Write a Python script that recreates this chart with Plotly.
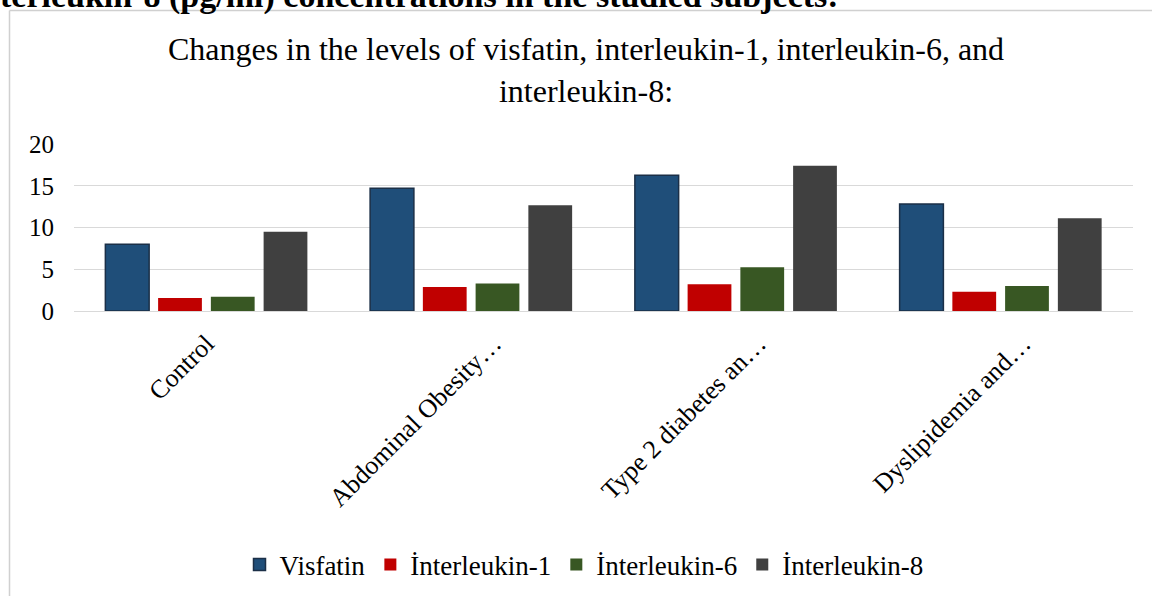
import plotly.graph_objects as go

categories = ["Control", "Abdominal Obesity…", "Type 2 diabetes an…", "Dyslipidemia and…"]
series_names = ["Visfatin", "İnterleukin-1", "İnterleukin-6", "İnterleukin-8"]
visfatin = [8.0, 14.7, 16.25, 12.8]
il1 = [1.55, 2.87, 3.2, 2.3]
il6 = [1.7, 3.3, 5.25, 3.0]
il8 = [9.5, 12.65, 17.4, 11.1]
y_ticks = [0, 5, 10, 15, 20]

values = [visfatin, il1, il6, il8]
colors = ["#1f4e79", "#c00000", "#385723", "#404040"]
outlines = ["#1b2f47", "#c00000", "#385723", "#404040"]
outline_w = [1.5, 0, 0, 0]

# label placement nudge (in category units) to mimic the source's truncated-label offset
label_nudge = [0.0, 0.085, 0.085, 0.085]

W, H = 1152, 596
L, R, T, B = 74, 19, 144, 285
pw = W - L - R
ph = H - T - B

def px_x(p):
    return (p - L) / pw

def px_y(p):
    return (H - B - p) / ph

positions = list(range(len(categories)))

fig = go.Figure()
for name, vals, c, oc, ow in zip(series_names, values, colors, outlines, outline_w):
    fig.add_trace(go.Bar(
        name=name, x=positions, y=vals,
        marker=dict(color=c, line=dict(color=oc, width=ow)),
    ))

font_family = "Liberation Serif, Times New Roman, serif"

fig.update_layout(
    width=W, height=H,
    margin=dict(l=L, r=R, t=T, b=B, autoexpand=False),
    paper_bgcolor="white", plot_bgcolor="white",
    barmode="group", bargap=0.203, bargroupgap=0.17,
    font=dict(family=font_family, color="#000000"),
    title=dict(
        text="Changes in the levels of visfatin, interleukin-1, interleukin-6, and<br>interleukin-8:",
        font=dict(family=font_family, size=32, color="#000000"),
        x=px_x(586), xref="paper", xanchor="center",
        y=1 - 60 / H, yref="container", yanchor="top",
    ),
    showlegend=True,
    legend=dict(
        orientation="h",
        x=px_x(584), xanchor="center",
        y=px_y(565), yanchor="middle",
        font=dict(family=font_family, size=27, color="#000000"),
        itemwidth=30,
        bgcolor="rgba(0,0,0,0)",
    ),
    xaxis=dict(
        range=[-0.5, len(categories) - 0.5],
        tickmode="array",
        tickvals=[p + n for p, n in zip(positions, label_nudge)],
        ticktext=categories,
        tickangle=-45,
        tickfont=dict(family=font_family, size=26, color="#000000"),
        showgrid=False, showline=True, linecolor="#d9d9d9", linewidth=1,
        zeroline=False,
        ticks="", automargin=False, ticklabelstandoff=6,
    ),
    yaxis=dict(
        range=[0, 20], tickvals=y_ticks,
        tickfont=dict(family=font_family, size=25, color="#000000"),
        showgrid=True, gridcolor="#d9d9d9", gridwidth=1,
        zeroline=False, showline=False, ticks="",
        ticklabelstandoff=19, automargin=False,
    ),
    annotations=[dict(
        text="<b>terleukin-8 (pg/ml) concentrations in the studied subjects:</b>",
        xref="paper", yref="paper",
        x=px_x(-2), y=px_y(-4), xanchor="left", yanchor="middle",
        showarrow=False,
        font=dict(family=font_family, size=34, color="#000000"),
    )],
    shapes=[
        dict(type="line", xref="paper", yref="paper",
             x0=px_x(9.5), x1=px_x(1160), y0=px_y(10.5), y1=px_y(10.5),
             line=dict(color="#d0d0d0", width=1.5)),
        dict(type="line", xref="paper", yref="paper",
             x0=px_x(9.5), x1=px_x(9.5), y0=px_y(10.5), y1=px_y(600),
             line=dict(color="#d0d0d0", width=1.5)),
    ],
)

fig.write_html(
    "out.html",
    config={"displayModeBar": False},
    post_script="document.body.style.margin='0';document.body.style.overflow='hidden';",
)
